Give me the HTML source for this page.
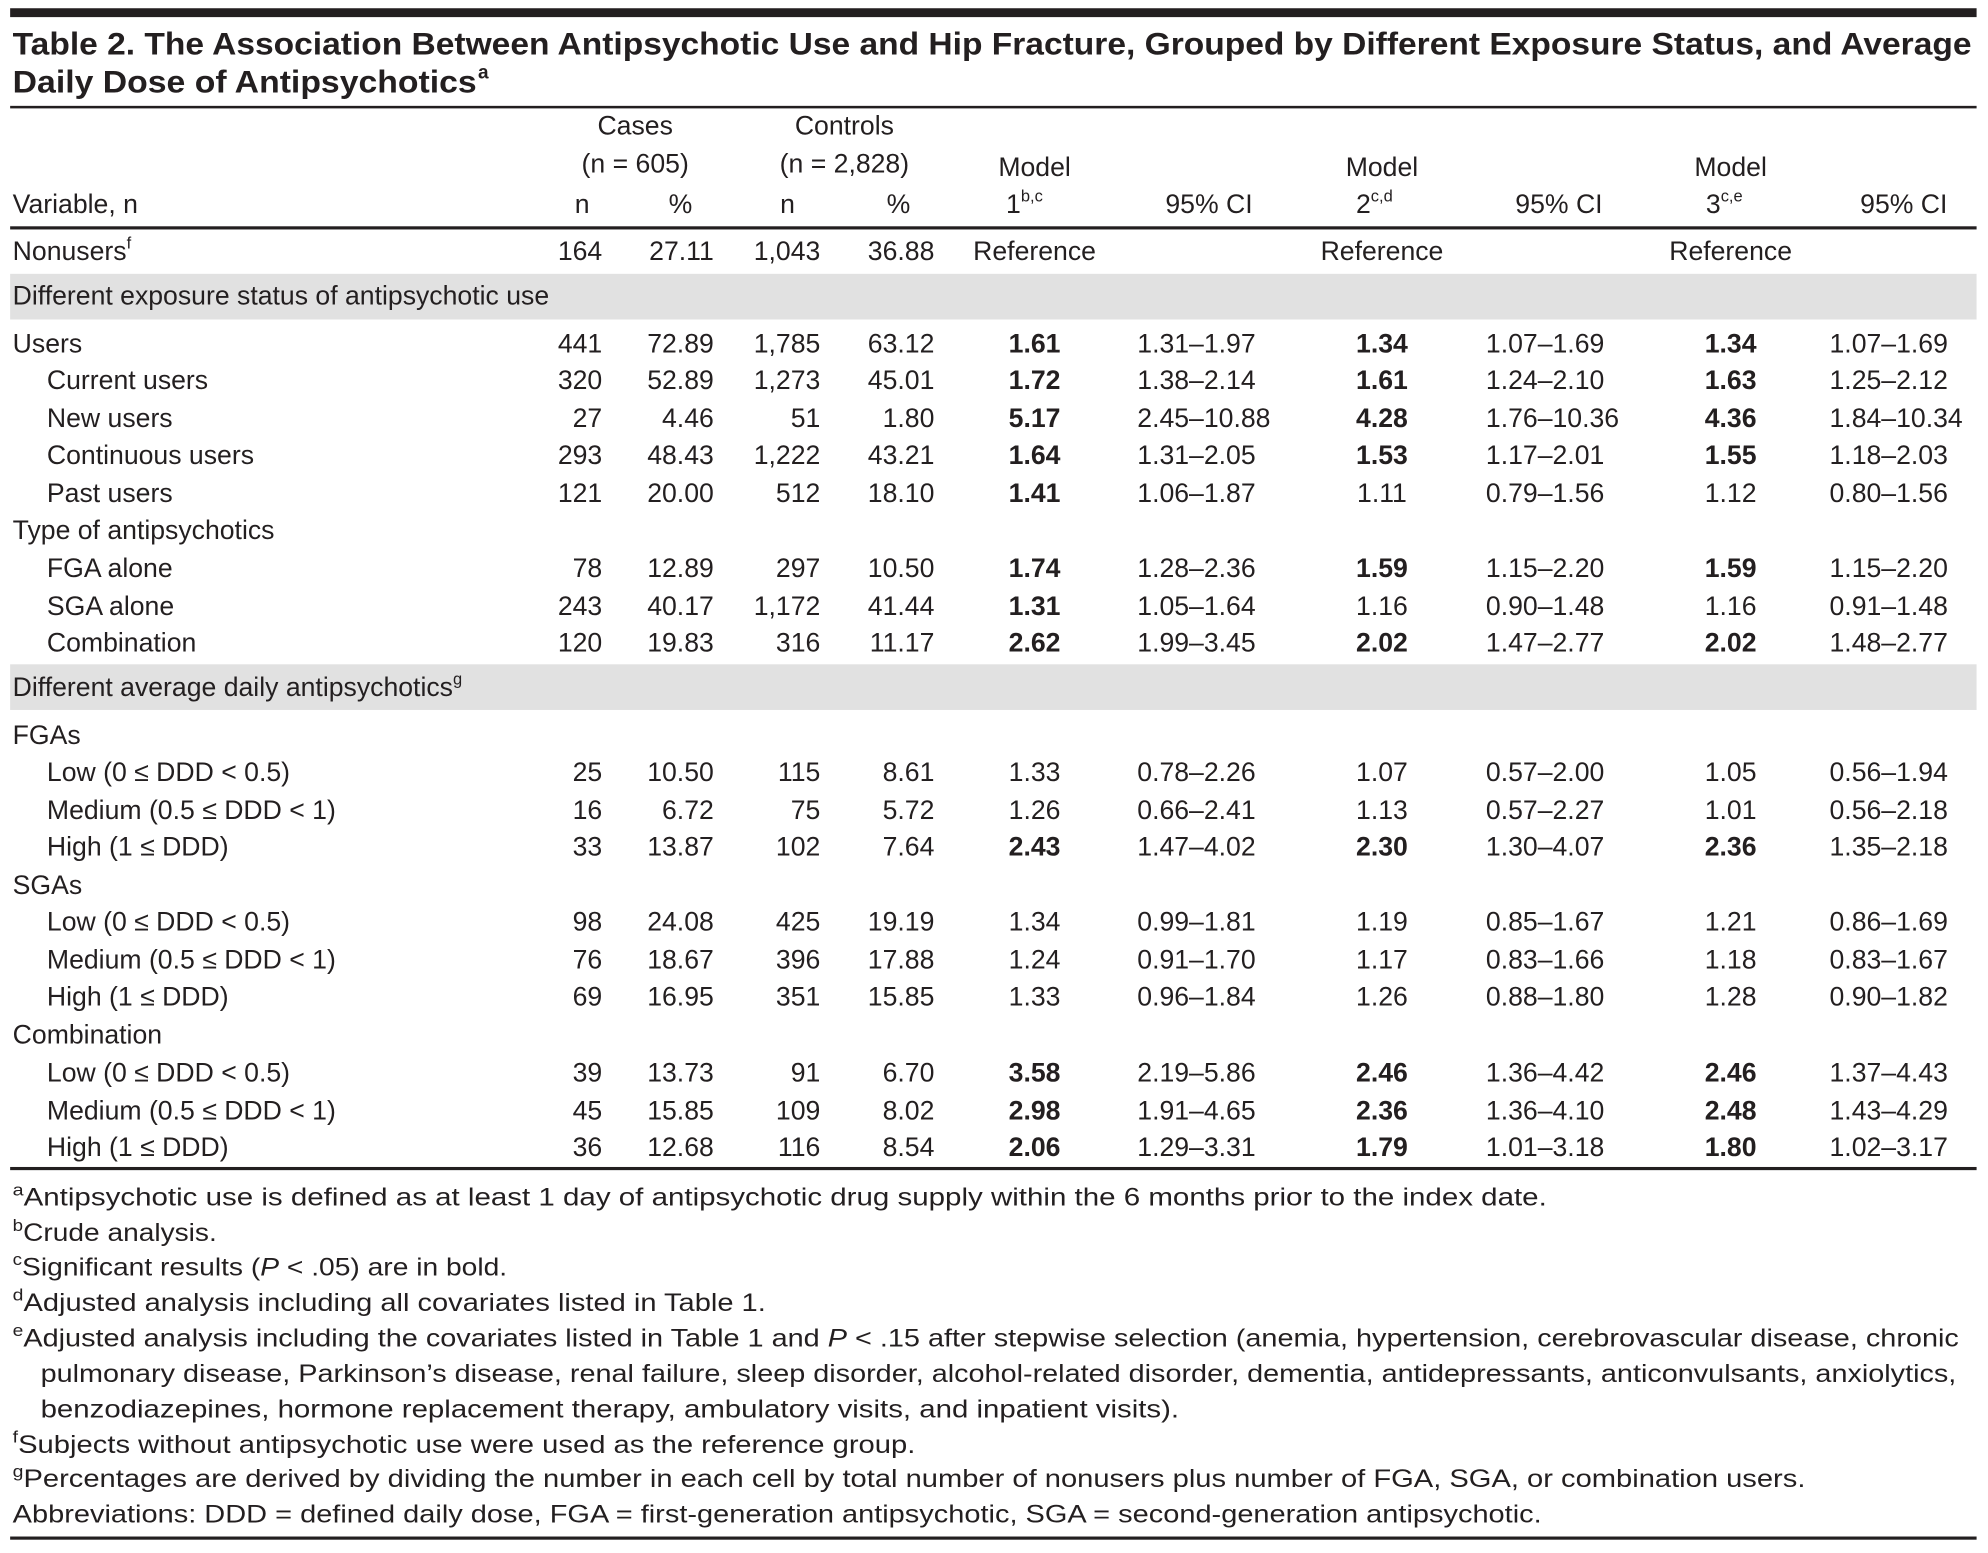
<!DOCTYPE html>
<html><head><meta charset="utf-8"><style>
html,body{margin:0;padding:0;background:#fff;}
svg{display:block;}
text{font-family:"Liberation Sans",sans-serif;fill:#231f20;}
.b{font-size:21px;}
.f{font-size:19.5px;}
.bd{font-weight:bold;}
</style></head><body>
<svg width="1988" height="1553" viewBox="0 0 1568 1225" preserveAspectRatio="none" xmlns="http://www.w3.org/2000/svg">
<rect x="0" y="0" width="1568" height="1225" fill="#fff"/>
<rect x="8" y="6.5" width="1551" height="7" fill="#231f20"/>
<text x="10" y="43" font-size="25" font-weight="bold" textLength="1545" lengthAdjust="spacingAndGlyphs">Table 2. The Association Between Antipsychotic Use and Hip Fracture, Grouped by Different Exposure Status, and Average</text>
<text x="10" y="73" font-size="25" font-weight="bold" textLength="366" lengthAdjust="spacingAndGlyphs">Daily Dose of Antipsychotics</text>
<text x="377" y="62" font-size="15" font-weight="bold">a</text>
<rect x="8" y="83.5" width="1551" height="2" fill="#231f20"/>
<g class="b">
<text x="501" y="106" text-anchor="middle">Cases</text>
<text x="501" y="136" text-anchor="middle">(n = 605)</text>
<text x="666" y="106" text-anchor="middle">Controls</text>
<text x="666" y="136" text-anchor="middle">(n = 2,828)</text>
<text x="816" y="139" text-anchor="middle">Model</text>
<text x="1090" y="139" text-anchor="middle">Model</text>
<text x="1365" y="139" text-anchor="middle">Model</text>
<text x="10" y="168">Variable, n</text>
<text x="465" y="168" text-anchor="end">n</text>
<text x="546" y="168" text-anchor="end">%</text>
<text x="627" y="168" text-anchor="end">n</text>
<text x="718" y="168" text-anchor="end">%</text>
<text x="808" y="168" text-anchor="middle">1<tspan font-size="13" dy="-9">b,c</tspan></text>
<text x="1084" y="168" text-anchor="middle">2<tspan font-size="13" dy="-9">c,d</tspan></text>
<text x="1360" y="168" text-anchor="middle">3<tspan font-size="13" dy="-9">c,e</tspan></text>
<text x="988" y="168" text-anchor="end">95% CI</text>
<text x="1264" y="168" text-anchor="end">95% CI</text>
<text x="1536" y="168" text-anchor="end">95% CI</text>
</g>
<rect x="8" y="178.5" width="1551" height="2.5" fill="#231f20"/>
<g class="b">
<text x="10" y="205">Nonusers<tspan font-size="13" dy="-9">f</tspan></text>
<text x="475" y="205" text-anchor="end">164</text>
<text x="563" y="205" text-anchor="end">27.11</text>
<text x="647" y="205" text-anchor="end">1,043</text>
<text x="737" y="205" text-anchor="end">36.88</text>
<text x="816" y="205" text-anchor="middle">Reference</text>
<text x="1090" y="205" text-anchor="middle">Reference</text>
<text x="1365" y="205" text-anchor="middle">Reference</text>
</g>
<rect x="8" y="216" width="1551" height="36" fill="#e1e1e1"/>
<text class="b" x="10" y="240">Different exposure status of antipsychotic use</text>
<rect x="8" y="524" width="1551" height="36" fill="#e1e1e1"/>
<text class="b" x="10" y="549">Different average daily antipsychotics<tspan font-size="13" dy="-9">g</tspan></text>

<g class="b" id="rows"></g>
<rect x="8" y="920.5" width="1551" height="2.5" fill="#231f20"/>
<g class="f">
<text x="10" y="951" textLength="1210" lengthAdjust="spacingAndGlyphs"><tspan font-size="13" dy="-8">a</tspan><tspan dy="8">Antipsychotic use is defined as at least 1 day of antipsychotic drug supply within the 6 months prior to the index date.</tspan></text>
<text x="10" y="979" textLength="161" lengthAdjust="spacingAndGlyphs"><tspan font-size="13" dy="-8">b</tspan><tspan dy="8">Crude analysis.</tspan></text>
<text x="10" y="1006" textLength="390" lengthAdjust="spacingAndGlyphs"><tspan font-size="13" dy="-8">c</tspan><tspan dy="8">Significant results (</tspan><tspan font-style="italic">P</tspan> &lt; .05) are in bold.</text>
<text x="10" y="1034" textLength="594" lengthAdjust="spacingAndGlyphs"><tspan font-size="13" dy="-8">d</tspan><tspan dy="8">Adjusted analysis including all covariates listed in Table 1.</tspan></text>
<text x="10" y="1062" textLength="1535" lengthAdjust="spacingAndGlyphs"><tspan font-size="13" dy="-8">e</tspan><tspan dy="8">Adjusted analysis including the covariates listed in Table 1 and </tspan><tspan font-style="italic">P</tspan> &lt; .15 after stepwise selection (anemia, hypertension, cerebrovascular disease, chronic</text>
<text x="32" y="1090" textLength="1511" lengthAdjust="spacingAndGlyphs">pulmonary disease, Parkinson’s disease, renal failure, sleep disorder, alcohol-related disorder, dementia, antidepressants, anticonvulsants, anxiolytics,</text>
<text x="32" y="1118" textLength="898" lengthAdjust="spacingAndGlyphs">benzodiazepines, hormone replacement therapy, ambulatory visits, and inpatient visits).</text>
<text x="10" y="1146" textLength="712" lengthAdjust="spacingAndGlyphs"><tspan font-size="13" dy="-8">f</tspan><tspan dy="8">Subjects without antipsychotic use were used as the reference group.</tspan></text>
<text x="10" y="1173" textLength="1414" lengthAdjust="spacingAndGlyphs"><tspan font-size="13" dy="-8">g</tspan><tspan dy="8">Percentages are derived by dividing the number in each cell by total number of nonusers plus number of FGA, SGA, or combination users.</tspan></text>
<text x="10" y="1201" textLength="1206" lengthAdjust="spacingAndGlyphs">Abbreviations: DDD = defined daily dose, FGA = first-generation antipsychotic, SGA = second-generation antipsychotic.</text>
</g>
<rect x="8" y="1212" width="1551" height="2.5" fill="#231f20"/>

<g class="b">
<!-- rows: label, indent, n, %, n, %, m1, ci1, m2, ci2, m3, ci3 -->
<text x="10" y="278">Users</text><text x="475" y="278" text-anchor="end">441</text><text x="563" y="278" text-anchor="end">72.89</text><text x="647" y="278" text-anchor="end">1,785</text><text x="737" y="278" text-anchor="end">63.12</text><text class="bd" x="816" y="278" text-anchor="middle">1.61</text><text x="897" y="278">1.31–1.97</text><text class="bd" x="1090" y="278" text-anchor="middle">1.34</text><text x="1172" y="278">1.07–1.69</text><text class="bd" x="1365" y="278" text-anchor="middle">1.34</text><text x="1443" y="278">1.07–1.69</text>
<text x="37" y="307">Current users</text><text x="475" y="307" text-anchor="end">320</text><text x="563" y="307" text-anchor="end">52.89</text><text x="647" y="307" text-anchor="end">1,273</text><text x="737" y="307" text-anchor="end">45.01</text><text class="bd" x="816" y="307" text-anchor="middle">1.72</text><text x="897" y="307">1.38–2.14</text><text class="bd" x="1090" y="307" text-anchor="middle">1.61</text><text x="1172" y="307">1.24–2.10</text><text class="bd" x="1365" y="307" text-anchor="middle">1.63</text><text x="1443" y="307">1.25–2.12</text>
<text x="37" y="337">New users</text><text x="475" y="337" text-anchor="end">27</text><text x="563" y="337" text-anchor="end">4.46</text><text x="647" y="337" text-anchor="end">51</text><text x="737" y="337" text-anchor="end">1.80</text><text class="bd" x="816" y="337" text-anchor="middle">5.17</text><text x="897" y="337">2.45–10.88</text><text class="bd" x="1090" y="337" text-anchor="middle">4.28</text><text x="1172" y="337">1.76–10.36</text><text class="bd" x="1365" y="337" text-anchor="middle">4.36</text><text x="1443" y="337">1.84–10.34</text>
<text x="37" y="366">Continuous users</text><text x="475" y="366" text-anchor="end">293</text><text x="563" y="366" text-anchor="end">48.43</text><text x="647" y="366" text-anchor="end">1,222</text><text x="737" y="366" text-anchor="end">43.21</text><text class="bd" x="816" y="366" text-anchor="middle">1.64</text><text x="897" y="366">1.31–2.05</text><text class="bd" x="1090" y="366" text-anchor="middle">1.53</text><text x="1172" y="366">1.17–2.01</text><text class="bd" x="1365" y="366" text-anchor="middle">1.55</text><text x="1443" y="366">1.18–2.03</text>
<text x="37" y="396">Past users</text><text x="475" y="396" text-anchor="end">121</text><text x="563" y="396" text-anchor="end">20.00</text><text x="647" y="396" text-anchor="end">512</text><text x="737" y="396" text-anchor="end">18.10</text><text class="bd" x="816" y="396" text-anchor="middle">1.41</text><text x="897" y="396">1.06–1.87</text><text x="1090" y="396" text-anchor="middle">1.11</text><text x="1172" y="396">0.79–1.56</text><text x="1365" y="396" text-anchor="middle">1.12</text><text x="1443" y="396">0.80–1.56</text>
<text x="10" y="425">Type of antipsychotics</text>
<text x="37" y="455">FGA alone</text><text x="475" y="455" text-anchor="end">78</text><text x="563" y="455" text-anchor="end">12.89</text><text x="647" y="455" text-anchor="end">297</text><text x="737" y="455" text-anchor="end">10.50</text><text class="bd" x="816" y="455" text-anchor="middle">1.74</text><text x="897" y="455">1.28–2.36</text><text class="bd" x="1090" y="455" text-anchor="middle">1.59</text><text x="1172" y="455">1.15–2.20</text><text class="bd" x="1365" y="455" text-anchor="middle">1.59</text><text x="1443" y="455">1.15–2.20</text>
<text x="37" y="485">SGA alone</text><text x="475" y="485" text-anchor="end">243</text><text x="563" y="485" text-anchor="end">40.17</text><text x="647" y="485" text-anchor="end">1,172</text><text x="737" y="485" text-anchor="end">41.44</text><text class="bd" x="816" y="485" text-anchor="middle">1.31</text><text x="897" y="485">1.05–1.64</text><text x="1090" y="485" text-anchor="middle">1.16</text><text x="1172" y="485">0.90–1.48</text><text x="1365" y="485" text-anchor="middle">1.16</text><text x="1443" y="485">0.91–1.48</text>
<text x="37" y="514">Combination</text><text x="475" y="514" text-anchor="end">120</text><text x="563" y="514" text-anchor="end">19.83</text><text x="647" y="514" text-anchor="end">316</text><text x="737" y="514" text-anchor="end">11.17</text><text class="bd" x="816" y="514" text-anchor="middle">2.62</text><text x="897" y="514">1.99–3.45</text><text class="bd" x="1090" y="514" text-anchor="middle">2.02</text><text x="1172" y="514">1.47–2.77</text><text class="bd" x="1365" y="514" text-anchor="middle">2.02</text><text x="1443" y="514">1.48–2.77</text>

<text x="10" y="587">FGAs</text>
<text x="37" y="616">Low (0 ≤ DDD &lt; 0.5)</text><text x="475" y="616" text-anchor="end">25</text><text x="563" y="616" text-anchor="end">10.50</text><text x="647" y="616" text-anchor="end">115</text><text x="737" y="616" text-anchor="end">8.61</text><text x="816" y="616" text-anchor="middle">1.33</text><text x="897" y="616">0.78–2.26</text><text x="1090" y="616" text-anchor="middle">1.07</text><text x="1172" y="616">0.57–2.00</text><text x="1365" y="616" text-anchor="middle">1.05</text><text x="1443" y="616">0.56–1.94</text>
<text x="37" y="646">Medium (0.5 ≤ DDD &lt; 1)</text><text x="475" y="646" text-anchor="end">16</text><text x="563" y="646" text-anchor="end">6.72</text><text x="647" y="646" text-anchor="end">75</text><text x="737" y="646" text-anchor="end">5.72</text><text x="816" y="646" text-anchor="middle">1.26</text><text x="897" y="646">0.66–2.41</text><text x="1090" y="646" text-anchor="middle">1.13</text><text x="1172" y="646">0.57–2.27</text><text x="1365" y="646" text-anchor="middle">1.01</text><text x="1443" y="646">0.56–2.18</text>
<text x="37" y="675">High (1 ≤ DDD)</text><text x="475" y="675" text-anchor="end">33</text><text x="563" y="675" text-anchor="end">13.87</text><text x="647" y="675" text-anchor="end">102</text><text x="737" y="675" text-anchor="end">7.64</text><text class="bd" x="816" y="675" text-anchor="middle">2.43</text><text x="897" y="675">1.47–4.02</text><text class="bd" x="1090" y="675" text-anchor="middle">2.30</text><text x="1172" y="675">1.30–4.07</text><text class="bd" x="1365" y="675" text-anchor="middle">2.36</text><text x="1443" y="675">1.35–2.18</text>
<text x="10" y="705">SGAs</text>
<text x="37" y="734">Low (0 ≤ DDD &lt; 0.5)</text><text x="475" y="734" text-anchor="end">98</text><text x="563" y="734" text-anchor="end">24.08</text><text x="647" y="734" text-anchor="end">425</text><text x="737" y="734" text-anchor="end">19.19</text><text x="816" y="734" text-anchor="middle">1.34</text><text x="897" y="734">0.99–1.81</text><text x="1090" y="734" text-anchor="middle">1.19</text><text x="1172" y="734">0.85–1.67</text><text x="1365" y="734" text-anchor="middle">1.21</text><text x="1443" y="734">0.86–1.69</text>
<text x="37" y="764">Medium (0.5 ≤ DDD &lt; 1)</text><text x="475" y="764" text-anchor="end">76</text><text x="563" y="764" text-anchor="end">18.67</text><text x="647" y="764" text-anchor="end">396</text><text x="737" y="764" text-anchor="end">17.88</text><text x="816" y="764" text-anchor="middle">1.24</text><text x="897" y="764">0.91–1.70</text><text x="1090" y="764" text-anchor="middle">1.17</text><text x="1172" y="764">0.83–1.66</text><text x="1365" y="764" text-anchor="middle">1.18</text><text x="1443" y="764">0.83–1.67</text>
<text x="37" y="793">High (1 ≤ DDD)</text><text x="475" y="793" text-anchor="end">69</text><text x="563" y="793" text-anchor="end">16.95</text><text x="647" y="793" text-anchor="end">351</text><text x="737" y="793" text-anchor="end">15.85</text><text x="816" y="793" text-anchor="middle">1.33</text><text x="897" y="793">0.96–1.84</text><text x="1090" y="793" text-anchor="middle">1.26</text><text x="1172" y="793">0.88–1.80</text><text x="1365" y="793" text-anchor="middle">1.28</text><text x="1443" y="793">0.90–1.82</text>
<text x="10" y="823">Combination</text>
<text x="37" y="853">Low (0 ≤ DDD &lt; 0.5)</text><text x="475" y="853" text-anchor="end">39</text><text x="563" y="853" text-anchor="end">13.73</text><text x="647" y="853" text-anchor="end">91</text><text x="737" y="853" text-anchor="end">6.70</text><text class="bd" x="816" y="853" text-anchor="middle">3.58</text><text x="897" y="853">2.19–5.86</text><text class="bd" x="1090" y="853" text-anchor="middle">2.46</text><text x="1172" y="853">1.36–4.42</text><text class="bd" x="1365" y="853" text-anchor="middle">2.46</text><text x="1443" y="853">1.37–4.43</text>
<text x="37" y="883">Medium (0.5 ≤ DDD &lt; 1)</text><text x="475" y="883" text-anchor="end">45</text><text x="563" y="883" text-anchor="end">15.85</text><text x="647" y="883" text-anchor="end">109</text><text x="737" y="883" text-anchor="end">8.02</text><text class="bd" x="816" y="883" text-anchor="middle">2.98</text><text x="897" y="883">1.91–4.65</text><text class="bd" x="1090" y="883" text-anchor="middle">2.36</text><text x="1172" y="883">1.36–4.10</text><text class="bd" x="1365" y="883" text-anchor="middle">2.48</text><text x="1443" y="883">1.43–4.29</text>
<text x="37" y="912">High (1 ≤ DDD)</text><text x="475" y="912" text-anchor="end">36</text><text x="563" y="912" text-anchor="end">12.68</text><text x="647" y="912" text-anchor="end">116</text><text x="737" y="912" text-anchor="end">8.54</text><text class="bd" x="816" y="912" text-anchor="middle">2.06</text><text x="897" y="912">1.29–3.31</text><text class="bd" x="1090" y="912" text-anchor="middle">1.79</text><text x="1172" y="912">1.01–3.18</text><text class="bd" x="1365" y="912" text-anchor="middle">1.80</text><text x="1443" y="912">1.02–3.17</text>
</g>
</svg>
</body></html>
